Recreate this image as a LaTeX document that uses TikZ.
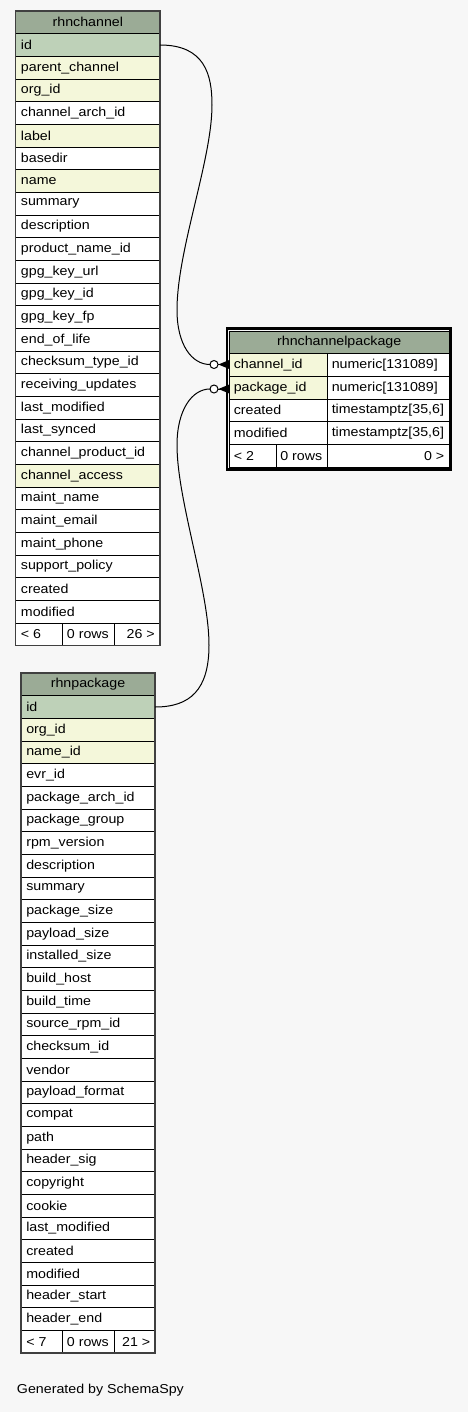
\documentclass[tikz,border=0pt]{standalone}
\usepackage{fontspec}
\setmainfont{Liberation Sans}[FakeStretch=1.1]
\definecolor{bgc}{HTML}{F7F7F7}
\definecolor{hdr}{HTML}{9BAB96}
\definecolor{pk}{HTML}{BED1B8}
\definecolor{fk}{HTML}{F4F7DA}
\definecolor{pl}{HTML}{FFFFFF}
\tikzset{
  txt/.style={anchor=west,inner sep=0pt,font=\fontsize{9.7}{11}\selectfont},
  ctxt/.style={inner sep=0pt,font=\fontsize{9.7}{11}\selectfont},
  rtxt/.style={anchor=east,inner sep=0pt,font=\fontsize{9.7}{11}\selectfont},
  cellline/.style={draw=black,line width=0.75pt},
  rel/.style={draw=black,line width=0.75pt},
  endcircle/.style={draw=black,fill=white,line width=0.75pt}
}
\newcommand\rowh{22.67}
% \mytable{prefix}{x1}{x2}{ytop}{title}{rows}
\newcommand\mytable[6]{%
  \filldraw[cellline,fill=hdr] (#2,#4) rectangle (#3,#4+\rowh);
  \node[ctxt] (#1-head) at ({(#2+#3)/2},#4+\rowh/2) {#5};
  \foreach \n/\f [count=\i] in {#6} {
    \filldraw[cellline,fill=\f] (#2,#4+\i*\rowh) rectangle (#3,#4+\i*\rowh+\rowh);
    \node[txt] (#1-r\i) at (#2+5,#4+\i*\rowh+\rowh/2) {\n};
  }
}
\begin{document}
\begin{tikzpicture}[x=0.75pt,y=-0.75pt]
\fill[bgc] (0,0) rectangle (468,1412);
\useasboundingbox (0,0) rectangle (468,1412);

% ---------------- rhnchannel
\mytable{ch}{15.7}{160}{11}{rhnchannel}{id/pk,parent\_channel/fk,org\_id/fk,channel\_arch\_id/pl,label/fk,basedir/pl,name/fk,summary/pl,description/pl,product\_name\_id/pl,gpg\_key\_url/pl,gpg\_key\_id/pl,gpg\_key\_fp/pl,end\_of\_life/pl,checksum\_type\_id/pl,receiving\_updates/pl,last\_modified/pl,last\_synced/pl,channel\_product\_id/pl,channel\_access/fk,maint\_name/pl,maint\_email/pl,maint\_phone/pl,support\_policy/pl,created/pl,modified/pl}
\filldraw[cellline,fill=white] (15.7,11+27*22.67) rectangle (62.7,11+28*22.67);
\filldraw[cellline,fill=white] (62.7,11+27*22.67) rectangle (114.7,11+28*22.67);
\filldraw[cellline,fill=white] (114.7,11+27*22.67) rectangle (160,11+28*22.67);
\node[txt] (ch-f1) at (20.7,11+27.5*22.67) {< 6};
\node[txt] (ch-f2) at (66.7,11+27.5*22.67) {0 rows};
\node[rtxt] (ch-f3) at (155,11+27.5*22.67) {26 >};
\draw[line width=1pt,draw=black!75] (15.7,11) rectangle (160,11+28*22.67);

% ---------------- rhnpackage
\mytable{pk}{21}{155}{673}{rhnpackage}{id/pk,org\_id/fk,name\_id/fk,evr\_id/pl,package\_arch\_id/pl,package\_group/pl,rpm\_version/pl,description/pl,summary/pl,package\_size/pl,payload\_size/pl,installed\_size/pl,build\_host/pl,build\_time/pl,source\_rpm\_id/pl,checksum\_id/pl,vendor/pl,payload\_format/pl,compat/pl,path/pl,header\_sig/pl,copyright/pl,cookie/pl,last\_modified/pl,created/pl,modified/pl,header\_start/pl,header\_end/pl}
\filldraw[cellline,fill=white] (21,673+29*22.67) rectangle (62.7,673+30*22.67);
\filldraw[cellline,fill=white] (62.7,673+29*22.67) rectangle (114.7,673+30*22.67);
\filldraw[cellline,fill=white] (114.7,673+29*22.67) rectangle (155,673+30*22.67);
\node[txt] (pk-f1) at (26,673+29.5*22.67) {< 7};
\node[txt] (pk-f2) at (66.7,673+29.5*22.67) {0 rows};
\node[rtxt] (pk-f3) at (150.5,673+29.5*22.67) {21 >};
\draw[line width=1pt,draw=black!75] (21,673) rectangle (155,673+30*22.67);

% ---------------- rhnchannelpackage
\filldraw[cellline,fill=hdr] (229.3,331) rectangle (449,331+22.67);
\node[ctxt] (cp-head) at (339.2,331+11.33) {rhnchannelpackage};
\foreach \n/\t/\f [count=\i] in {channel\_id/{numeric[131089]}/fk,package\_id/{numeric[131089]}/fk,created/{timestamptz[35,6]}/pl,modified/{timestamptz[35,6]}/pl} {
  \filldraw[cellline,fill=\f] (229.3,331+\i*22.67) rectangle (327.7,331+\i*22.67+22.67);
  \filldraw[cellline,fill=white] (327.7,331+\i*22.67) rectangle (449,331+\i*22.67+22.67);
  \node[txt] (cp-r\i) at (233.5,331+\i*22.67+11.33) {\n};
  \node[txt] (cp-t\i) at (331.5,331+\i*22.67+11.33) {\t};
}
\filldraw[cellline,fill=white] (229.3,331+5*22.67) rectangle (276,331+6*22.67);
\filldraw[cellline,fill=white] (276,331+5*22.67) rectangle (327.7,331+6*22.67);
\filldraw[cellline,fill=white] (327.7,331+5*22.67) rectangle (449,331+6*22.67);
\node[txt] (cp-f1) at (233.5,331+5.5*22.67) {< 2};
\node[txt] (cp-f2) at (280,331+5.5*22.67) {0 rows};
\node[rtxt] (cp-f3) at (444.5,331+5.5*22.67) {0 >};
\draw[line width=2.2pt,draw=black] (227,328.2) rectangle (450.8,469.8);

% ---------------- connectors
\coordinate (chid) at (160,45);
\coordinate (pkid) at (155,707);
\coordinate (c1) at (214,364.5);
\coordinate (c2) at (214,389);
\coordinate (t1) at (229.3,364.5);
\coordinate (t2) at (229.3,389);

\draw[rel] (chid) .. controls (205,45) and (212,75) .. (212,105)
  .. controls (212,160) and (177,250) .. (177,310)
  .. controls (177,345) and (192,364.5) .. (210,364.5);
\draw[rel] (pkid) .. controls (190,707) and (209,690) .. (209,645)
  .. controls (209,590) and (177,500) .. (177,445)
  .. controls (177,410) and (192,389) .. (210,389);

\foreach \c/\t in {c1/t1,c2/t2} {
  \fill[black] ([xshift=3.3pt]\c) -- ([yshift=3.4pt]\t) -- ([yshift=-3.4pt]\t) -- cycle;
  \draw[rel] ([xshift=3.3pt]\c) -- (\t);
  \draw[endcircle] (\c) circle (3pt);
}

% ---------------- footer text
\node[txt] (gen) at (16.7,1390) {Generated by SchemaSpy};
\end{tikzpicture}
\end{document}
